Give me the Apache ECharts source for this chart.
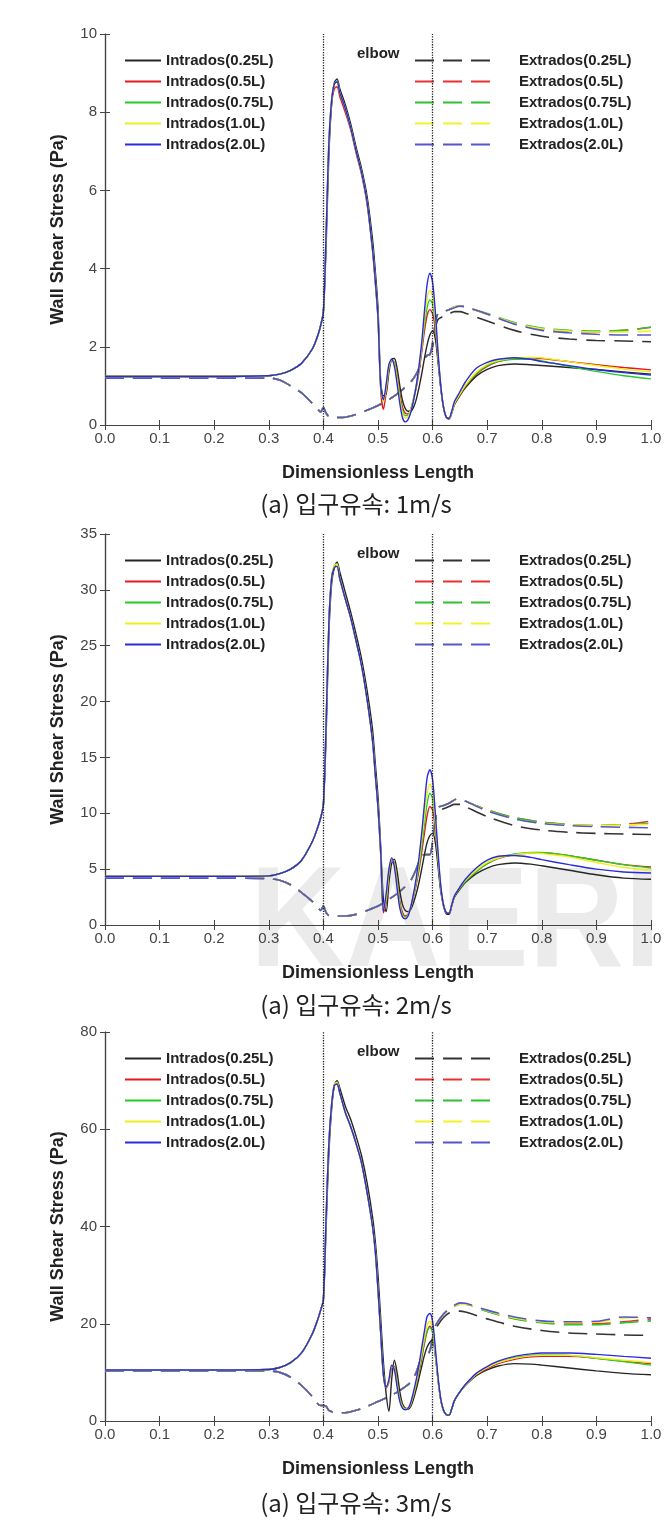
<!DOCTYPE html>
<html>
<head>
<meta charset="utf-8">
<script src="https://cdn.jsdelivr.net/npm/echarts@6/dist/echarts.min.js"></script>
<style>
html,body{margin:0;padding:0;background:#fff;}
#chart{width:668px;height:1523px;}
</style>
</head>
<body>
<div id="chart"></div>
<script>
// ---------- categories / labels ----------
const IN_NAMES = ['Intrados(0.25L)','Intrados(0.5L)','Intrados(0.75L)','Intrados(1.0L)','Intrados(2.0L)'];
const EX_NAMES = ['Extrados(0.25L)','Extrados(0.5L)','Extrados(0.75L)','Extrados(1.0L)','Extrados(2.0L)'];
const CAPTIONS = ['(a) 입구유속: 1m/s','(a) 입구유속: 2m/s','(a) 입구유속: 3m/s'];
const Y_MAX = [10, 35, 80];
const Y_STEP = [2, 5, 20];
const ELBOW = [0.4, 0.6];

// ---------- x positions (dimensionless length) ----------
const X_IN = [0,0.1,0.2,0.3,0.32,0.34,0.36,0.38,0.39,0.395,0.4,0.405,0.41,0.415,0.42,0.425,0.43,0.44,0.45,0.46,0.47,0.48,0.49,0.495,0.5,
  0.505,0.51,0.515,0.52,0.525,0.53,0.535,0.54,0.545,0.55,0.555,0.56,0.565,0.57,0.575,0.58,0.585,0.59,0.595,0.6,0.605,0.61,0.615,0.62,0.625,0.63,0.635,0.64,0.65,0.66,0.68,0.7,0.72,0.75,0.78,0.8,0.85,0.9,0.95,1.0];
const X_EX = [0,0.1,0.2,0.3,0.32,0.34,0.36,0.38,0.39,0.395,0.4,0.405,0.41,0.42,0.44,0.46,0.48,0.5,0.52,0.54,0.56,0.57,0.58,0.59,0.595,0.6,0.605,0.61,0.62,0.63,0.64,0.65,0.66,0.7,0.75,0.8,0.85,0.9,0.95,1.0];

// ---------- panel 1 : 1 m/s ----------
const P1_IN_025 = [1.24,1.24,1.24,1.26,1.3,1.4,1.58,1.95,2.3,2.55,2.9,4.6,6.9,8.2,8.75,8.85,8.6,8.2,7.7,7.1,6.55,5.85,4.75,3.95,3.0,
  1.1,0.75,0.8,1.35,1.68,1.7,1.45,1.0,0.62,0.42,0.35,0.35,0.45,0.65,0.95,1.3,1.7,2.05,2.3,2.4,2.2,1.6,0.95,0.45,0.2,0.15,0.3,0.52,0.75,0.95,1.25,1.42,1.52,1.56,1.54,1.52,1.47,1.42,1.36,1.3];
const P1_IN_05 = [1.24,1.24,1.24,1.26,1.3,1.4,1.58,1.95,2.3,2.55,2.9,4.9,7.1,8.2,8.6,8.65,8.4,8.0,7.55,6.95,6.4,5.65,4.45,3.65,2.7,
  0.9,0.4,0.85,1.45,1.66,1.6,1.28,0.8,0.45,0.3,0.28,0.4,0.65,0.95,1.35,1.85,2.4,2.8,2.95,2.85,2.45,1.7,0.95,0.45,0.2,0.17,0.32,0.54,0.76,0.98,1.3,1.5,1.62,1.7,1.72,1.7,1.62,1.54,1.47,1.41];
const P1_IN_075 = [1.24,1.24,1.24,1.26,1.3,1.4,1.58,1.95,2.3,2.55,2.9,4.9,7.2,8.3,8.72,8.78,8.5,8.1,7.6,7.0,6.45,5.7,4.5,3.7,2.75,
  1.0,0.62,0.95,1.48,1.65,1.58,1.2,0.72,0.36,0.24,0.25,0.4,0.68,1.0,1.42,1.95,2.55,3.0,3.2,3.1,2.6,1.75,0.98,0.45,0.2,0.17,0.32,0.55,0.78,1.0,1.32,1.52,1.63,1.68,1.68,1.64,1.5,1.37,1.26,1.18];
const P1_IN_10 = [1.24,1.24,1.24,1.26,1.3,1.4,1.58,1.95,2.3,2.55,2.9,4.9,7.2,8.3,8.72,8.78,8.5,8.1,7.6,7.0,6.45,5.7,4.5,3.7,2.75,
  1.0,0.6,0.95,1.5,1.66,1.55,1.15,0.65,0.3,0.18,0.22,0.38,0.65,1.0,1.45,2.0,2.7,3.25,3.45,3.3,2.7,1.8,1.0,0.45,0.2,0.17,0.33,0.56,0.8,1.02,1.35,1.55,1.65,1.72,1.73,1.72,1.62,1.52,1.43,1.36];
const P1_IN_20 = [1.24,1.24,1.24,1.26,1.3,1.4,1.58,1.95,2.3,2.55,2.9,4.9,7.2,8.3,8.72,8.78,8.5,8.1,7.6,7.0,6.45,5.7,4.5,3.7,2.75,
  1.0,0.65,1.05,1.55,1.68,1.5,1.05,0.55,0.18,0.08,0.14,0.32,0.62,1.0,1.5,2.1,2.9,3.6,3.88,3.65,2.9,1.85,1.0,0.45,0.2,0.17,0.35,0.6,0.85,1.1,1.45,1.6,1.68,1.72,1.68,1.62,1.52,1.42,1.34,1.28];
const P1_EX_025 = [1.2,1.2,1.2,1.2,1.15,1.0,0.82,0.55,0.4,0.33,0.45,0.3,0.22,0.19,0.2,0.27,0.38,0.5,0.65,0.85,1.1,1.3,1.6,1.78,1.8,2.0,2.45,2.7,2.78,2.84,2.9,2.9,2.86,2.66,2.42,2.27,2.2,2.16,2.15,2.13];
const P1_EX_05 = [1.2,1.2,1.2,1.2,1.15,1.0,0.82,0.55,0.4,0.33,0.45,0.3,0.22,0.19,0.2,0.27,0.38,0.5,0.65,0.85,1.1,1.3,1.6,1.78,1.8,2.1,2.6,2.85,2.9,2.95,3.02,3.05,3.02,2.83,2.6,2.46,2.4,2.38,2.42,2.5];
const P1_EX_075 = [1.2,1.2,1.2,1.2,1.15,1.0,0.82,0.55,0.4,0.33,0.45,0.3,0.22,0.19,0.2,0.27,0.38,0.5,0.65,0.85,1.1,1.3,1.6,1.78,1.8,2.1,2.6,2.85,2.9,2.95,3.02,3.05,3.02,2.85,2.62,2.48,2.42,2.4,2.42,2.5];
const P1_EX_10 = [1.2,1.2,1.2,1.2,1.15,1.0,0.82,0.55,0.4,0.33,0.45,0.3,0.22,0.19,0.2,0.27,0.38,0.5,0.65,0.85,1.1,1.3,1.6,1.78,1.8,2.1,2.6,2.85,2.9,2.95,3.02,3.05,3.02,2.84,2.6,2.46,2.4,2.38,2.38,2.4];
const P1_EX_20 = [1.2,1.2,1.2,1.2,1.15,1.0,0.82,0.55,0.4,0.33,0.45,0.3,0.22,0.19,0.2,0.27,0.38,0.5,0.65,0.85,1.1,1.3,1.6,1.78,1.8,2.1,2.6,2.85,2.9,2.95,3.0,3.04,3.02,2.84,2.58,2.42,2.36,2.32,2.3,2.3];

// ---------- panel 2 : 2 m/s ----------
const P2_IN_025 = [4.35,4.35,4.35,4.4,4.6,5.0,5.8,7.5,8.8,9.6,10.8,17,26,30.5,32.0,32.5,31.6,29.8,28.0,26.0,23.8,21.0,17.5,14.5,11.5,
  7.0,2.2,1.2,3.8,5.5,5.9,4.8,3.0,1.8,1.3,1.2,1.4,2.0,2.8,3.8,5.0,6.3,7.4,8.0,8.2,7.4,5.2,3.0,1.7,1.0,0.95,1.7,2.5,3.2,3.8,4.6,5.1,5.4,5.55,5.45,5.3,4.9,4.5,4.2,4.1];
const P2_IN_05 = [4.35,4.35,4.35,4.4,4.6,5.0,5.8,7.5,8.8,9.6,10.8,18,27,31,32.0,32.1,31.0,29.2,27.5,25.4,23.2,20.2,16.5,13.5,10.5,
  6.3,1.1,2.0,4.5,5.8,5.6,4.0,2.1,1.1,0.8,0.95,1.6,2.5,3.6,4.9,6.5,8.2,9.8,10.6,10.3,8.5,5.8,3.2,1.8,1.1,1.05,1.8,2.6,3.3,3.9,4.8,5.5,5.95,6.3,6.45,6.45,6.2,5.8,5.4,5.2];
const P2_IN_075 = [4.35,4.35,4.35,4.4,4.6,5.0,5.8,7.5,8.8,9.6,10.8,18,27,31,32.2,32.3,31.0,29.2,27.5,25.4,23.2,20.2,16.5,13.5,10.5,
  6.5,1.3,2.3,4.7,5.9,5.5,3.8,1.9,0.9,0.7,0.9,1.6,2.6,3.8,5.2,7.0,9.0,10.9,11.8,11.3,9.0,6.0,3.3,1.8,1.1,1.05,1.8,2.6,3.3,3.9,4.8,5.5,6.0,6.35,6.5,6.5,6.2,5.8,5.4,5.1];
const P2_IN_10 = [4.35,4.35,4.35,4.4,4.6,5.0,5.8,7.5,8.8,9.6,10.8,18,27,31,32.2,32.3,31.0,29.2,27.5,25.4,23.2,20.2,16.5,13.5,10.5,
  6.5,1.3,2.4,4.8,5.9,5.4,3.6,1.7,0.8,0.6,0.85,1.6,2.7,4.0,5.6,7.6,9.8,11.8,12.6,12.0,9.4,6.2,3.4,1.8,1.1,1.05,1.8,2.6,3.4,4.0,4.9,5.6,6.0,6.3,6.45,6.4,6.1,5.6,5.15,4.9];
const P2_IN_20 = [4.35,4.35,4.35,4.4,4.6,5.0,5.8,7.5,8.8,9.6,10.8,18,27,31,32.0,32.1,31.0,29.2,27.5,25.4,23.2,20.2,16.5,13.5,10.5,
  6.5,1.2,2.8,5.0,6.0,5.2,3.3,1.5,0.7,0.55,0.8,1.6,2.8,4.2,6.0,8.2,10.8,13.2,13.9,13.0,10.0,6.5,3.5,1.8,1.1,1.05,1.8,2.6,3.4,4.1,5.1,5.8,6.15,6.22,6.05,5.85,5.4,5.0,4.75,4.65];
const P2_EX_025 = [4.2,4.2,4.2,4.15,4.0,3.6,2.9,2.1,1.6,1.3,1.7,1.1,0.85,0.8,0.8,0.95,1.3,1.7,2.3,3.0,4.0,5.0,6.2,6.3,6.3,7.5,9.3,10.2,10.4,10.6,10.8,10.8,10.6,9.7,8.9,8.5,8.3,8.2,8.15,8.1];
const P2_EX_05 = [4.2,4.2,4.2,4.15,4.0,3.6,2.9,2.1,1.6,1.3,1.7,1.1,0.85,0.8,0.8,0.95,1.3,1.7,2.3,3.0,4.0,5.0,6.2,6.3,6.3,7.5,9.5,10.5,10.7,10.9,11.2,11.3,11.1,10.3,9.6,9.2,9.0,8.9,9.0,9.3];
const P2_EX_075 = [4.2,4.2,4.2,4.15,4.0,3.6,2.9,2.1,1.6,1.3,1.7,1.1,0.85,0.8,0.8,0.95,1.3,1.7,2.3,3.0,4.0,5.0,6.2,6.3,6.3,7.5,9.5,10.5,10.7,10.9,11.2,11.3,11.1,10.3,9.6,9.2,9.0,8.9,8.95,9.1];
const P2_EX_10 = [4.2,4.2,4.2,4.15,4.0,3.6,2.9,2.1,1.6,1.3,1.7,1.1,0.85,0.8,0.8,0.95,1.3,1.7,2.3,3.0,4.0,5.0,6.2,6.3,6.3,7.5,9.5,10.5,10.7,10.9,11.2,11.3,11.1,10.2,9.5,9.1,8.95,8.9,8.95,9.0];
const P2_EX_20 = [4.2,4.2,4.2,4.15,4.0,3.6,2.9,2.1,1.6,1.3,1.7,1.1,0.85,0.8,0.8,0.95,1.3,1.7,2.3,3.0,4.0,5.0,6.2,6.3,6.3,7.5,9.5,10.5,10.7,10.9,11.2,11.3,11.1,10.2,9.5,9.1,8.9,8.8,8.75,8.7];

// ---------- panel 3 : 3 m/s ----------
const P3_IN_025 = [10.5,10.5,10.5,10.6,11.0,12.0,14.0,18.0,21.0,22.8,25.0,40,55,64,69.0,70.0,68.5,64.8,62.0,58.5,54.5,49.0,42.0,37.0,30.0,
  21,12.0,5.5,2.0,8.5,12.5,10.0,6.0,3.5,2.6,2.4,3.0,4.5,6.5,8.8,11.2,13.5,15.2,16.2,16.7,13.5,8.5,4.3,2.2,1.3,1.2,2.5,4.2,6.0,7.3,9.3,10.5,11.3,11.8,11.7,11.5,10.9,10.3,9.8,9.5];
const P3_IN_05 = [10.5,10.5,10.5,10.6,11.0,12.0,14.0,18.0,21.0,22.8,25.0,42,57,65,69.0,69.3,67.5,63.5,60.5,57.0,53.0,47.0,40.0,35.0,27.0,
  18,9.2,6.8,8.0,11.0,11.2,8.0,4.8,3.1,2.6,2.6,3.4,5.2,7.4,10.0,12.9,15.9,18.4,19.5,18.6,14.0,8.5,4.3,2.2,1.3,1.2,2.5,4.2,6.0,7.4,9.5,10.8,11.8,12.7,13.2,13.3,13.3,12.9,12.3,11.8];
const P3_IN_075 = [10.5,10.5,10.5,10.6,11.0,12.0,14.0,18.0,21.0,22.8,25.0,42,57,65,69.2,69.6,67.5,63.5,60.5,57.0,53.0,47.0,40.0,35.0,27.0,
  18,9.5,7.0,8.3,11.2,11.0,7.8,4.6,3.0,2.5,2.6,3.5,5.4,7.7,10.4,13.4,16.4,18.6,19.2,18.2,13.8,8.4,4.3,2.2,1.3,1.2,2.5,4.2,6.0,7.4,9.6,11.0,12.0,13.0,13.5,13.6,13.5,12.9,12.2,11.5];
const P3_IN_10 = [10.5,10.5,10.5,10.6,11.0,12.0,14.0,18.0,21.0,22.8,25.0,42,57,65,69.2,69.6,67.5,63.5,60.5,57.0,53.0,47.0,40.0,35.0,27.0,
  18,9.5,7.0,8.3,11.2,10.8,7.5,4.3,2.8,2.4,2.6,3.6,5.6,8.0,10.8,14.0,17.2,19.8,20.5,19.2,14.2,8.6,4.4,2.2,1.3,1.2,2.5,4.2,6.0,7.4,9.6,11.0,12.0,12.9,13.4,13.5,13.5,13.0,12.5,12.0];
const P3_IN_20 = [10.5,10.5,10.5,10.6,11.0,12.0,14.0,18.0,21.0,22.8,25.0,42,57,65,69.0,69.3,67.5,63.5,60.5,57.0,53.0,47.0,40.0,35.0,27.0,
  18,9.5,7.0,8.5,11.5,10.5,7.0,4.0,2.6,2.3,2.6,3.8,6.0,8.5,11.5,15.0,18.5,21.5,22.1,20.5,15.0,9.0,4.5,2.2,1.3,1.2,2.5,4.2,6.0,7.5,9.8,11.2,12.3,13.3,13.8,14.0,14.0,13.7,13.3,12.9];
const P3_EX_025 = [10.3,10.3,10.3,10.3,10.0,9.0,7.3,5.0,3.5,3.2,3.2,3.0,2.2,1.8,1.7,2.2,3.0,4.0,5.0,6.3,8.0,10.0,13.0,13.5,14.5,16.0,18.5,19.8,21.3,22.2,22.5,22.6,22.4,21.0,19.5,18.6,18.1,17.9,17.7,17.6];
const P3_EX_05 = [10.3,10.3,10.3,10.3,10.0,9.0,7.3,5.0,3.5,3.2,3.2,3.0,2.2,1.8,1.7,2.2,3.0,4.0,5.0,6.3,8.0,10.0,13.0,13.5,14.5,17.0,19.5,20.5,22.0,23.0,23.6,24.0,24.0,22.6,21.1,20.3,20.0,20.0,20.4,21.0];
const P3_EX_075 = [10.3,10.3,10.3,10.3,10.0,9.0,7.3,5.0,3.5,3.2,3.2,3.0,2.2,1.8,1.7,2.2,3.0,4.0,5.0,6.3,8.0,10.0,13.0,13.5,14.5,17.0,19.5,20.5,22.0,23.0,23.6,24.0,24.0,22.5,21.0,20.2,19.8,19.8,20.2,20.6];
const P3_EX_10 = [10.3,10.3,10.3,10.3,10.0,9.0,7.3,5.0,3.5,3.2,3.2,3.0,2.2,1.8,1.7,2.2,3.0,4.0,5.0,6.3,8.0,10.0,13.0,13.5,14.5,17.0,19.5,20.5,22.0,23.0,23.6,24.0,24.0,22.7,21.2,20.4,20.2,20.3,21.2,21.3];
const P3_EX_20 = [10.3,10.3,10.3,10.3,10.0,9.0,7.3,5.0,3.5,3.2,3.2,3.0,2.2,1.8,1.7,2.2,3.0,4.0,5.0,6.3,8.0,10.0,13.0,13.5,14.5,17.0,19.5,20.5,22.0,23.0,23.8,24.3,24.2,22.8,21.4,20.6,20.4,20.5,21.4,21.2];

const PANEL_IN = [[P1_IN_025,P1_IN_05,P1_IN_075,P1_IN_10,P1_IN_20],[P2_IN_025,P2_IN_05,P2_IN_075,P2_IN_10,P2_IN_20],[P3_IN_025,P3_IN_05,P3_IN_075,P3_IN_10,P3_IN_20]];
const PANEL_EX = [[P1_EX_025,P1_EX_05,P1_EX_075,P1_EX_10,P1_EX_20],[P2_EX_025,P2_EX_05,P2_EX_075,P2_EX_10,P2_EX_20],[P3_EX_025,P3_EX_05,P3_EX_075,P3_EX_10,P3_EX_20]];

// ---------- style / layout ----------
const IN_COLORS = ['#262626','#e4191b','#25cc25','#eeee1e','#2a2ae0'];
const EX_COLORS = ['#333333','#e83030','#30c030','#f2f22a','#5656cc'];
const GRID_TOP = [34, 534, 1032];
const GRID_H = [391, 391, 389];
const LEFT = 105, RIGHT = 17;
const FONT = '"Liberation Sans", Arial, Helvetica, sans-serif';
const KFONT = '"Noto Sans CJK KR", "Noto Sans CJK SC", sans-serif';
const AXIS_COLOR = '#444';

const grids = [], xAxes = [], yAxes = [], series = [], legends = [], graphics = [];

// light watermark text behind panel 2
graphics.push({type:'text', left: 250, top: 856, z: -10, silent: true, scaleX: 0.93,
  style:{text:'KAERI', font:'bold 142px ' + FONT, fill:'#ebebeb'}});

for (let p = 0; p < 3; p++) {
  grids.push({left: LEFT, right: RIGHT, top: GRID_TOP[p], height: GRID_H[p], containLabel: false});
  xAxes.push({
    type:'value', gridIndex:p, min:0, max:1, interval:0.1, position:'bottom',
    name:'Dimensionless Length', nameLocation:'middle', nameGap:39,
    nameTextStyle:{fontFamily:FONT, fontSize:18, fontWeight:'bold', color:'#222'},
    axisLine:{show:true, lineStyle:{color:AXIS_COLOR, width:1.2}},
    axisTick:{show:true, inside:true, length:5, lineStyle:{color:AXIS_COLOR}},
    axisLabel:{fontFamily:FONT, fontSize:15, color:'#444', margin:6, formatter:v=>v.toFixed(1)},
    splitLine:{show:false}
  });
  xAxes.push({
    type:'value', gridIndex:p, min:0, max:1, interval:0.1, position:'top',
    axisLine:{show:true, lineStyle:{color:AXIS_COLOR, width:1.2}},
    axisTick:{show:true, inside:true, length:5, lineStyle:{color:AXIS_COLOR}},
    axisLabel:{show:false}, splitLine:{show:false}
  });
  yAxes.push({
    type:'value', gridIndex:p, min:0, max:Y_MAX[p], interval:Y_STEP[p], position:'left',
    name:'Wall Shear Stress (Pa)', nameLocation:'middle', nameGap:38,
    nameTextStyle:{fontFamily:FONT, fontSize:18, fontWeight:'bold', color:'#222'},
    axisLine:{show:true, lineStyle:{color:AXIS_COLOR, width:1.2}},
    axisTick:{show:true, inside:true, length:5, lineStyle:{color:AXIS_COLOR}},
    axisLabel:{fontFamily:FONT, fontSize:15, color:'#444', margin:8},
    splitLine:{show:false}
  });
  yAxes.push({
    type:'value', gridIndex:p, min:0, max:Y_MAX[p], interval:Y_STEP[p], position:'right',
    axisLine:{show:true, lineStyle:{color:AXIS_COLOR, width:1.2}},
    axisTick:{show:true, inside:true, length:5, lineStyle:{color:AXIS_COLOR}},
    axisLabel:{show:false}, splitLine:{show:false}
  });

  // extrados (dashed) first
  for (let k = 0; k < 5; k++) {
    const ys = PANEL_EX[p][k];
    const s = {
      name: EX_NAMES[k], type:'line', xAxisIndex:p*2, yAxisIndex:p*2,
      data: X_EX.map((x,i)=>[x, ys[i]]),
      symbol:'none', smooth:0.3, color: EX_COLORS[k],
      lineStyle:{color:EX_COLORS[k], width:1.6, type:[19,9]},
      z: 2
    };
    if (k === 0) {
      s.markLine = {
        silent:true, symbol:'none', label:{show:false}, animation:false,
        lineStyle:{type:'dotted', color:'#222', width:1.3},
        data: ELBOW.map(v=>({xAxis:v}))
      };
    }
    series.push(s);
  }
  // intrados (solid)
  for (let k = 0; k < 5; k++) {
    const ys = PANEL_IN[p][k];
    series.push({
      name: IN_NAMES[k], type:'line', xAxisIndex:p*2, yAxisIndex:p*2,
      data: X_IN.map((x,i)=>[x, ys[i]]),
      symbol:'none', smooth:0.3, color: IN_COLORS[k],
      lineStyle:{color:IN_COLORS[k], width:1.4, type:'solid'},
      z: 3
    });
  }

  const legTop = GRID_TOP[p] + 19;
  legends.push({
    orient:'vertical', left:124, top:legTop, padding:0,
    itemWidth:36, itemHeight:14, itemGap:6, selectedMode:false,
    itemStyle:{opacity:0},
    data: IN_NAMES,
    textStyle:{fontFamily:FONT, fontSize:15, fontWeight:'bold', color:'#222', lineHeight:14}
  });
  legends.push({
    orient:'vertical', left:414, top:legTop, padding:0,
    itemWidth:76, itemHeight:14, itemGap:6, selectedMode:false,
    itemStyle:{opacity:0},
    data: EX_NAMES,
    textStyle:{fontFamily:FONT, fontSize:15, fontWeight:'bold', color:'#222', lineHeight:14, padding:[0,0,0,23]}
  });

  graphics.push({type:'text', left:357, top:GRID_TOP[p] + 12, silent:true,
    style:{text:'elbow', font:'bold 15px ' + FONT, fill:'#222'}});
  const capY = [504, 1005, 1503][p];
  graphics.push({type:'text', x:356, y:capY, silent:true,
    style:{text:CAPTIONS[p], font:'24px ' + KFONT, fill:'#222', align:'center', verticalAlign:'middle'}});
}

const chart = echarts.init(document.getElementById('chart'), null, {renderer:'canvas'});
chart.setOption({
  animation:false,
  backgroundColor:'#ffffff',
  grid: grids, xAxis: xAxes, yAxis: yAxes,
  legend: legends, series: series, graphic: graphics
});
</script>
</body>
</html>
